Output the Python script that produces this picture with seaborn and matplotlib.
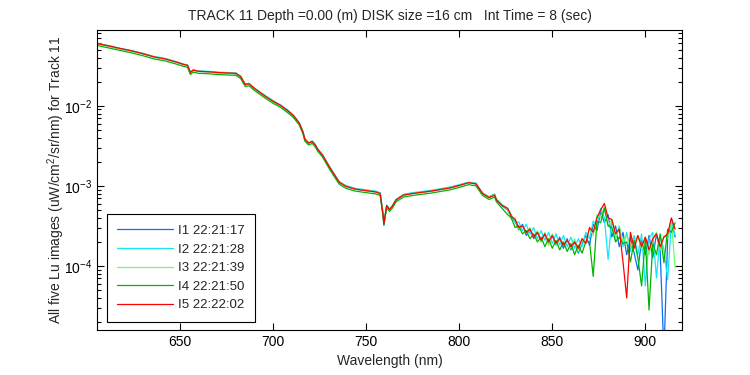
import numpy as np
import pandas as pd
import matplotlib
matplotlib.use("Agg")
import matplotlib.pyplot as plt
import seaborn as sns

# Wavelength grid (nm): hand-picked in the smooth part, 2 nm in the noisy tail
wl_smooth = [606, 612, 618, 624, 630, 636, 642, 648, 652, 654,
             655.5, 657, 660, 665, 670, 675, 680, 682.5, 685, 687,
             690, 693, 696, 700, 704, 708, 711, 714, 716, 717,
             719, 721, 722.5, 724, 726.5, 730, 733, 735.5, 739, 744,
             750, 755, 757.5, 759, 759.5, 761, 762.5, 764, 766, 770,
             775, 780, 785, 790, 795, 800, 805, 809, 812.5, 816,
             819, 820, 823]
wl_tail = [826, 828, 830, 832, 834, 836, 838, 840, 842, 844,
           846, 848, 850, 852, 854, 856, 858, 860, 862, 864,
           866, 868, 870, 872, 874, 876, 878, 880, 882, 884,
           886, 888, 890, 892, 894, 896, 898, 900, 902, 904,
           906, 908, 910, 912, 914, 916]
wavelength = wl_smooth + wl_tail

# log10(Lu), one list per image
i1_log = [-1.225, -1.255, -1.29, -1.315, -1.35, -1.39, -1.415, -1.455, -1.485, -1.50,
          -1.585, -1.555, -1.57, -1.575, -1.585, -1.59, -1.60, -1.635, -1.735, -1.725,
          -1.785, -1.835, -1.885, -1.945, -2.00, -2.065, -2.13, -2.22, -2.33, -2.42,
          -2.465, -2.45, -2.485, -2.545, -2.62, -2.755, -2.87, -2.955, -3.005, -3.04,
          -3.06, -3.075, -3.095, -3.36, -3.49, -3.25, -3.29, -3.255, -3.175, -3.115,
          -3.095, -3.08, -3.065, -3.045, -3.025, -2.995, -2.96, -2.975, -3.095, -3.145,
          -3.115, -3.175, -3.25,
          -3.30, -3.40, -3.44, -3.55, -3.48, -3.62, -3.54, -3.66, -3.58, -3.70,
          -3.60, -3.72, -3.62, -3.74, -3.64, -3.78, -3.66, -3.80, -3.70, -3.84,
          -3.72, -3.62, -3.74, -3.48, -3.56, -3.32, -3.46, -3.36, -3.64, -3.50,
          -3.76, -3.58, -3.86, -3.64, -3.84, -4.05, -3.68, -3.86, -3.62, -3.90,
          -3.60, -3.82, -5.10, -3.66, -3.42, -3.64]
i2_log = [-1.225, -1.25, -1.285, -1.31, -1.345, -1.385, -1.41, -1.45, -1.48, -1.49,
          -1.58, -1.55, -1.565, -1.57, -1.58, -1.585, -1.59, -1.63, -1.73, -1.72,
          -1.78, -1.83, -1.875, -1.935, -1.99, -2.055, -2.12, -2.21, -2.32, -2.41,
          -2.46, -2.44, -2.48, -2.54, -2.61, -2.745, -2.855, -2.945, -2.995, -3.03,
          -3.05, -3.065, -3.085, -3.34, -3.46, -3.24, -3.29, -3.25, -3.17, -3.105,
          -3.085, -3.07, -3.055, -3.035, -3.015, -2.985, -2.955, -2.965, -3.085, -3.135,
          -3.10, -3.165, -3.235,
          -3.28, -3.36, -3.46, -3.45, -3.56, -3.48, -3.60, -3.52, -3.66, -3.56,
          -3.68, -3.58, -3.72, -3.60, -3.74, -3.62, -3.76, -3.64, -3.78, -3.66,
          -3.76, -3.58, -3.66, -3.44, -3.50, -3.28, -3.40, -3.92, -3.42, -3.68,
          -3.50, -3.76, -3.58, -3.82, -3.62, -3.86, -3.60, -4.25, -3.66, -3.58,
          -4.15, -3.62, -3.80, -4.17, -3.46, -3.62]
i3_log = [-1.23, -1.26, -1.29, -1.32, -1.35, -1.39, -1.42, -1.455, -1.49, -1.50,
          -1.585, -1.56, -1.57, -1.58, -1.59, -1.59, -1.60, -1.64, -1.74, -1.725,
          -1.785, -1.84, -1.89, -1.95, -2.00, -2.07, -2.13, -2.22, -2.33, -2.42,
          -2.47, -2.45, -2.49, -2.55, -2.62, -2.755, -2.865, -2.955, -3.005, -3.04,
          -3.06, -3.075, -3.095, -3.34, -3.46, -3.245, -3.295, -3.255, -3.175, -3.115,
          -3.095, -3.08, -3.065, -3.045, -3.025, -2.995, -2.96, -2.975, -3.09, -3.14,
          -3.11, -3.17, -3.24,
          -3.29, -3.42, -3.40, -3.54, -3.50, -3.58, -3.52, -3.64, -3.56, -3.70,
          -3.58, -3.74, -3.60, -3.74, -3.66, -3.72, -3.68, -3.78, -3.66, -3.82,
          -3.68, -3.70, -3.54, -3.62, -3.36, -3.40, -3.26, -3.50, -3.42, -3.66,
          -3.52, -3.70, -3.62, -3.76, -3.70, -3.62, -3.80, -3.64, -3.86, -3.66,
          -3.58, -3.80, -3.62, -3.66, -3.44, -4.02]
i4_log = [-1.25, -1.28, -1.31, -1.34, -1.375, -1.415, -1.44, -1.48, -1.51, -1.52,
          -1.61, -1.58, -1.595, -1.60, -1.61, -1.615, -1.62, -1.66, -1.76, -1.75,
          -1.81, -1.86, -1.91, -1.97, -2.02, -2.09, -2.15, -2.24, -2.35, -2.44,
          -2.49, -2.47, -2.51, -2.57, -2.64, -2.78, -2.89, -2.98, -3.03, -3.065,
          -3.085, -3.10, -3.12, -3.37, -3.49, -3.27, -3.32, -3.28, -3.20, -3.14,
          -3.12, -3.105, -3.09, -3.07, -3.05, -3.02, -2.985, -3.00, -3.12, -3.17,
          -3.14, -3.20, -3.28,
          -3.36, -3.40, -3.52, -3.50, -3.60, -3.56, -3.66, -3.60, -3.70, -3.64,
          -3.76, -3.66, -3.78, -3.68, -3.80, -3.70, -3.82, -3.72, -3.86, -3.74,
          -3.84, -3.70, -3.70, -4.13, -3.44, -3.46, -3.28, -3.50, -3.52, -3.70,
          -3.64, -3.72, -3.70, -3.95, -3.68, -3.90, -4.25, -3.66, -4.55, -3.72,
          -3.86, -3.60, -3.96, -3.54, -3.58, -3.46]
i5_log = [-1.225, -1.255, -1.285, -1.315, -1.35, -1.39, -1.415, -1.455, -1.485, -1.495,
          -1.585, -1.555, -1.57, -1.575, -1.585, -1.59, -1.595, -1.635, -1.735, -1.725,
          -1.785, -1.835, -1.885, -1.945, -1.995, -2.065, -2.125, -2.215, -2.325, -2.415,
          -2.465, -2.445, -2.485, -2.545, -2.615, -2.755, -2.865, -2.955, -3.005, -3.04,
          -3.06, -3.075, -3.095, -3.35, -3.47, -3.245, -3.295, -3.255, -3.175, -3.115,
          -3.095, -3.08, -3.065, -3.045, -3.025, -2.995, -2.96, -2.975, -3.095, -3.145,
          -3.115, -3.175, -3.245,
          -3.28, -3.38, -3.42, -3.52, -3.50, -3.58, -3.54, -3.64, -3.58, -3.68,
          -3.60, -3.70, -3.62, -3.72, -3.66, -3.74, -3.68, -3.76, -3.70, -3.78,
          -3.66, -3.72, -3.52, -3.58, -3.40, -3.30, -3.22, -3.40, -3.42, -3.60,
          -3.54, -3.95, -4.40, -3.58, -3.78, -3.62, -3.76, -3.64, -3.80, -3.66,
          -3.60, -3.76, -3.64, -3.60, -3.40, -3.54]

labels = ["I1 22:21:17", "I2 22:21:28", "I3 22:21:39", "I4 22:21:50", "I5 22:22:02"]
colors = ["#0a6ff0", "#14e6f5", "#66ff66", "#00b400", "#ff0000"]

# Build long-format table
frames = []
for lab, vals in zip(labels, [i1_log, i2_log, i3_log, i4_log, i5_log]):
    frames.append(pd.DataFrame({"Wavelength": wavelength,
                                "Lu": 10.0 ** np.array(vals),
                                "Image": lab}))
df = pd.concat(frames, ignore_index=True)

sns.set_style("ticks")
plt.rcParams["font.family"] = ["Liberation Sans", "DejaVu Sans"]
plt.rcParams["mathtext.default"] = "regular"

fig = plt.figure(figsize=(7.5, 3.75), dpi=100)
ax = fig.add_axes([0.1293, 0.12, 0.7800, 0.80])

sns.lineplot(data=df, x="Wavelength", y="Lu", hue="Image",
             palette=dict(zip(labels, colors)), linewidth=0.9,
             estimator=None, sort=False, ax=ax)

ax.set_yscale("log")
ax.set_xlim(605.3, 919.7)
ax.set_ylim(10 ** -4.80, 10 ** -1.054)
ax.set_xticks([650, 700, 750, 800, 850, 900])

for side in ax.spines.values():
    side.set_color("black")
    side.set_linewidth(0.8)
ax.tick_params(axis="both", which="both", direction="in", top=True, right=True,
               colors="black", labelsize=10)
ax.tick_params(axis="both", which="major", length=5, width=0.8)
ax.tick_params(axis="y", which="minor", length=3, width=0.8)

ax.set_xlabel("Wavelength (nm)", fontsize=10, labelpad=4)
ax.set_ylabel("All five Lu images (uW/cm$^2$/sr/nm) for Track 11", fontsize=10, labelpad=-2)
ax.set_title("TRACK 11 Depth =0.00 (m) DISK size =16 cm   Int Time = 8 (sec)",
             fontsize=10, pad=7)

leg = ax.legend(loc="lower left", bbox_to_anchor=(0.017, 0.027), fontsize=9.5,
                handlelength=4.2, frameon=True, fancybox=False,
                borderpad=0.8, labelspacing=0.48, handletextpad=0.4, borderaxespad=0)
leg.get_frame().set_edgecolor("black")
leg.get_frame().set_linewidth(0.8)
leg.get_frame().set_alpha(1)

fig.savefig("out.png", dpi=100)
